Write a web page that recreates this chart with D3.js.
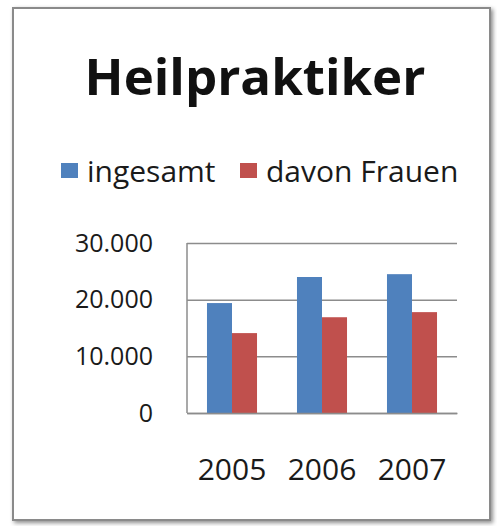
<!DOCTYPE html>
<html>
<head>
<meta charset="utf-8">
<script src="https://cdn.jsdelivr.net/npm/d3@7"></script>
<style>
  body { margin: 0; background: #fff; }
  text { font-family: "Open Sans", sans-serif; fill: #1a1a1a; }
</style>
</head>
<body>
<script>
var width = 497, height = 526;

var years = ["2005", "2006", "2007"];
var seriesNames = ["ingesamt", "davon Frauen"];
var ingesamt = [19400, 24000, 24500];
var davonFrauen = [14100, 16900, 17800];
var yTicks = [0, 10000, 20000, 30000];

var colors = ["#4f81bd", "#c0504d"];

var de = d3.formatLocale({decimal: ",", thousands: ".", grouping: [3], currency: ["", " €"]});
var fmt = de.format(",");

var rows = years.map(function(y, i) {
  return {year: y, values: [ingesamt[i], davonFrauen[i]]};
});

var svg = d3.select("body").append("svg")
    .attr("width", width)
    .attr("height", height);

var defs = svg.append("defs");
var f = defs.append("filter").attr("id", "shadow")
    .attr("x", "-5%").attr("y", "-5%").attr("width", "110%").attr("height", "110%");
f.append("feDropShadow")
    .attr("dx", 2).attr("dy", 2).attr("stdDeviation", 2)
    .attr("flood-color", "#000").attr("flood-opacity", 0.45);

// frame
svg.append("rect")
    .attr("x", 13).attr("y", 8)
    .attr("width", 477).attr("height", 512)
    .style("fill", "white")
    .style("stroke", "#8a8a8a")
    .style("stroke-width", 2)
    .attr("filter", "url(#shadow)");

// title
svg.append("text")
    .attr("x", 255).attr("y", 95)
    .attr("text-anchor", "middle")
    .style("font-size", "51px")
    .style("font-weight", "bold")
    .style("fill", "#111")
    .text("Heilpraktiker");

// legend
var legendX = [61, 240];
var leg = svg.selectAll(".leg").data(seriesNames).enter().append("g")
    .attr("class", "leg")
    .attr("transform", function(d, i) { return "translate(" + legendX[i] + ",163)"; });
leg.append("rect")
    .attr("width", 17).attr("height", 15)
    .style("fill", function(d, i) { return colors[i]; });
leg.append("text")
    .attr("x", 26).attr("y", 19)
    .style("font-size", "30px")
    .text(function(d) { return d; });

// plot
var pLeft = 187, pRight = 457, pTop = 243, pBottom = 413;

var x = d3.scaleBand().domain(years).range([pLeft, pRight])
    .paddingInner(0.444).paddingOuter(0.222);
var xs = d3.scaleBand().domain([0, 1]).range([0, x.bandwidth()]);
var y = d3.scaleLinear().domain([0, 30000]).range([pBottom, pTop]);

var yAxis = svg.append("g")
    .attr("transform", "translate(" + pLeft + ",0)")
    .call(d3.axisLeft(y).tickValues(yTicks).tickFormat(fmt)
        .tickSize(-(pRight - pLeft)).tickPadding(34));
yAxis.select(".domain").remove();
yAxis.selectAll("line").style("stroke", "#8c8c8c").style("stroke-width", 1.5);
yAxis.selectAll("text").style("font-size", "25px").style("fill", "#1a1a1a")
    .style("font-family", "'Open Sans', sans-serif");

var groups = svg.selectAll(".grp").data(rows).enter().append("g")
    .attr("class", "grp")
    .attr("transform", function(d) { return "translate(" + x(d.year) + ",0)"; });
groups.selectAll("rect").data(function(d) { return d.values; }).enter().append("rect")
    .attr("x", function(d, i) { return xs(i); })
    .attr("y", function(d) { return y(d); })
    .attr("width", xs.bandwidth())
    .attr("height", function(d) { return pBottom - y(d); })
    .style("fill", function(d, i) { return colors[i]; });

// axis lines
svg.append("line")
    .attr("x1", pLeft).attr("x2", pLeft).attr("y1", pTop).attr("y2", pBottom)
    .style("stroke", "#8c8c8c").style("stroke-width", 1.5);
var xAxis = svg.append("g")
    .attr("transform", "translate(0," + pBottom + ")")
    .call(d3.axisBottom(x).tickSize(0).tickPadding(46));
xAxis.select(".domain").style("stroke", "#8c8c8c").style("stroke-width", 1.5);
xAxis.selectAll("text").style("font-size", "30px").style("fill", "#1a1a1a")
    .style("font-family", "'Open Sans', sans-serif");
</script>
</body>
</html>
